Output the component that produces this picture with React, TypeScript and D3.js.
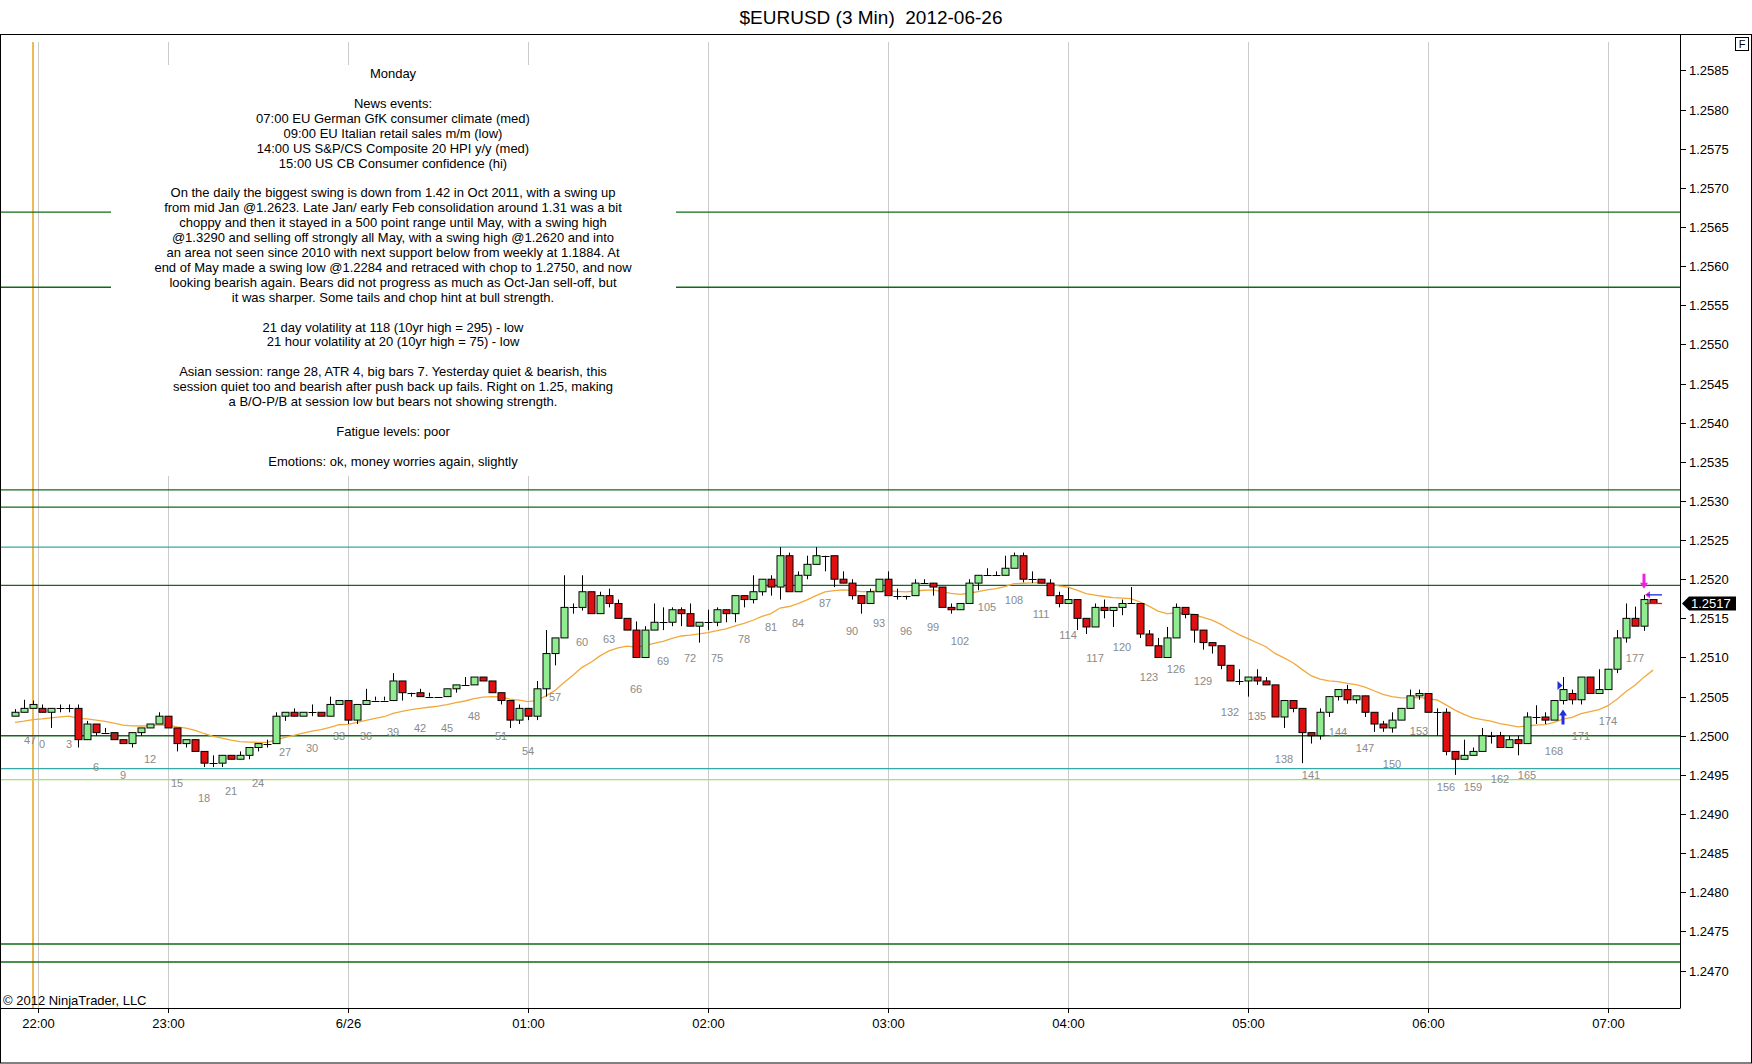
import React, { useEffect, useRef } from 'react'
import * as d3 from 'd3'

const WIDTH = 1752
const HEIGHT = 1064
const FONT = 'Liberation Sans, Arial, sans-serif'

const chartTitle = '$EURUSD (3 Min)  2012-06-26'
const copyright = '\u00A9 2012 NinjaTrader, LLC'

// bar index of the first visible bar (three bars of the prior session are shown)
const firstBar = -3

// OHLC of every 3 min bar, bar -3 .. 179
const opens = [
  1.25025, 1.2503, 1.25035, 1.25035, 1.2503, 1.25035, 1.25035, 1.25035, 1.24995, 1.25015,
  1.25004, 1.25004, 1.24995, 1.2499, 1.25004, 1.2501, 1.25015, 1.25025, 1.2501, 1.2499,
  1.24995, 1.2498, 1.24965, 1.24965, 1.24975, 1.2497, 1.24975, 1.24985, 1.2499, 1.2499,
  1.25025, 1.2503, 1.25025, 1.2503, 1.2503, 1.25025, 1.2504, 1.25045, 1.2502, 1.2504,
  1.25045, 1.25045, 1.25045, 1.2507, 1.25055, 1.25055, 1.2505, 1.2505, 1.2505, 1.2506,
  1.25065, 1.25065, 1.25075, 1.2507, 1.25055, 1.25045, 1.2502, 1.25035, 1.25025, 1.2506,
  1.25105, 1.25125, 1.25164, 1.25164, 1.25184, 1.25156, 1.25179, 1.25169, 1.2515, 1.25135,
  1.251, 1.25135, 1.25145, 1.25145, 1.25161, 1.25156, 1.2514, 1.25145, 1.25145, 1.25161,
  1.25156, 1.25179, 1.25174, 1.25184, 1.252, 1.2519, 1.2523, 1.25184, 1.25205, 1.25219,
  1.2523, 1.2523, 1.252, 1.25195, 1.25179, 1.25169, 1.25184, 1.252, 1.25179, 1.25179,
  1.25179, 1.25195, 1.25195, 1.2519, 1.25164, 1.25161, 1.25169, 1.25195, 1.25205, 1.25205,
  1.25205, 1.25214, 1.2523, 1.252, 1.252, 1.25195, 1.25179, 1.25169, 1.25174, 1.2515,
  1.25139, 1.25164, 1.2516, 1.25164, 1.25169, 1.25169, 1.2513, 1.25115, 1.251, 1.25125,
  1.25164, 1.25155, 1.25135, 1.25119, 1.25115, 1.2509, 1.2507, 1.2507, 1.25075, 1.2507,
  1.25065, 1.25024, 1.25045, 1.25035, 1.25004, 1.25, 1.2503, 1.2505, 1.25059, 1.25046,
  1.25051, 1.2503, 1.25015, 1.2501, 1.2502, 1.25035, 1.25051, 1.25054, 1.2503, 1.2503,
  1.2498, 1.2497, 1.24975, 1.2498, 1.25, 1.25, 1.24985, 1.24995, 1.2499, 1.25024,
  1.25024, 1.2502, 1.25045, 1.25054, 1.25046, 1.25075, 1.25054, 1.25059, 1.25085, 1.25125,
  1.2515, 1.2514, 1.25174,
]

const highs = [
  1.25034, 1.25046, 1.25045, 1.2504, 1.25035, 1.2504, 1.2504, 1.2504, 1.25019, 1.25015,
  1.2501, 1.25004, 1.24995, 1.25004, 1.2501, 1.25015, 1.2503, 1.25025, 1.2501, 1.24995,
  1.24995, 1.2498, 1.24975, 1.24975, 1.24975, 1.2498, 1.24985, 1.2499, 1.24995, 1.2503,
  1.2503, 1.25035, 1.2503, 1.2504, 1.2503, 1.2505, 1.25045, 1.25045, 1.2504, 1.2506,
  1.2505, 1.2505, 1.2508, 1.2507, 1.25055, 1.2506, 1.25055, 1.2505, 1.2506, 1.25065,
  1.25075, 1.25075, 1.25075, 1.2507, 1.25055, 1.25045, 1.2504, 1.25035, 1.2507, 1.25135,
  1.25125, 1.25205, 1.25169, 1.25205, 1.25184, 1.25184, 1.25188, 1.25174, 1.2515, 1.25146,
  1.2514, 1.25169, 1.25164, 1.25164, 1.25164, 1.25169, 1.25145, 1.25161, 1.25164, 1.25161,
  1.25179, 1.25179, 1.25205, 1.252, 1.25205, 1.25241, 1.25234, 1.2521, 1.2523, 1.25241,
  1.2523, 1.2523, 1.2521, 1.252, 1.25179, 1.25188, 1.252, 1.2521, 1.25188, 1.25179,
  1.252, 1.252, 1.25195, 1.2519, 1.25169, 1.25169, 1.252, 1.25205, 1.25214, 1.2521,
  1.2523, 1.25234, 1.25234, 1.2521, 1.252, 1.252, 1.25184, 1.25189, 1.25174, 1.2515,
  1.25169, 1.25174, 1.25164, 1.25174, 1.2519, 1.25169, 1.25135, 1.25125, 1.25139, 1.25169,
  1.25164, 1.25155, 1.25135, 1.25119, 1.25115, 1.2509, 1.25085, 1.25075, 1.25085, 1.25075,
  1.25065, 1.25045, 1.25045, 1.25035, 1.25004, 1.25035, 1.2505, 1.25059, 1.25065, 1.25051,
  1.25051, 1.2503, 1.25019, 1.2503, 1.25035, 1.25059, 1.25059, 1.25054, 1.25035, 1.25035,
  1.2498, 1.24995, 1.24985, 1.2501, 1.25005, 1.25005, 1.25, 1.25, 1.2503, 1.25039,
  1.2503, 1.25045, 1.25075, 1.25059, 1.25075, 1.25075, 1.25085, 1.25085, 1.25135, 1.25169,
  1.25165, 1.2518, 1.25174,
]

const lows = [
  1.25025, 1.2503, 1.25035, 1.2503, 1.2501, 1.2503, 1.2503, 1.24985, 1.24995, 1.25,
  1.25004, 1.24995, 1.2499, 1.24985, 1.25, 1.2501, 1.25015, 1.2501, 1.2498, 1.24985,
  1.2498, 1.2496, 1.2496, 1.2496, 1.2497, 1.2497, 1.2497, 1.2498, 1.24985, 1.2499,
  1.25019, 1.25025, 1.25025, 1.25025, 1.25025, 1.25025, 1.2504, 1.25015, 1.25015, 1.2504,
  1.25045, 1.25045, 1.25045, 1.25045, 1.2505, 1.2505, 1.2505, 1.2505, 1.2505, 1.25055,
  1.25065, 1.25065, 1.2507, 1.25055, 1.2504, 1.2501, 1.25015, 1.2502, 1.2502, 1.2505,
  1.2509, 1.25125, 1.25156, 1.2516, 1.25156, 1.25156, 1.25164, 1.2515, 1.25135, 1.251,
  1.251, 1.25135, 1.25135, 1.2514, 1.2514, 1.2514, 1.25119, 1.25135, 1.2514, 1.25145,
  1.25145, 1.25164, 1.25169, 1.25179, 1.25179, 1.25174, 1.25184, 1.25184, 1.252, 1.25219,
  1.2521, 1.2519, 1.25195, 1.25174, 1.25156, 1.25169, 1.25184, 1.25179, 1.25174, 1.25174,
  1.25179, 1.25195, 1.25179, 1.25164, 1.25156, 1.25161, 1.25169, 1.25186, 1.25205, 1.25205,
  1.25205, 1.25214, 1.25196, 1.25195, 1.25195, 1.25179, 1.25164, 1.25169, 1.25135, 1.2513,
  1.25139, 1.2515, 1.25139, 1.25154, 1.25169, 1.25125, 1.25115, 1.251, 1.251, 1.25125,
  1.2515, 1.25119, 1.2511, 1.25105, 1.25085, 1.2507, 1.25065, 1.2505, 1.25065, 1.25065,
  1.25024, 1.2501, 1.2503, 1.24965, 1.2499, 1.24995, 1.25024, 1.25045, 1.25041, 1.25041,
  1.25024, 1.25005, 1.25005, 1.25004, 1.2502, 1.25035, 1.25046, 1.2503, 1.25, 1.24975,
  1.2495, 1.2497, 1.24975, 1.2498, 1.2499, 1.24985, 1.24985, 1.24975, 1.2499, 1.25015,
  1.25015, 1.2502, 1.2504, 1.2504, 1.2504, 1.25054, 1.25054, 1.25059, 1.2508, 1.25119,
  1.2514, 1.25134, 1.25169,
]

const closes = [
  1.2503, 1.25035, 1.2504, 1.2503, 1.25035, 1.25035, 1.25035, 1.24995, 1.25015, 1.25004,
  1.25004, 1.24995, 1.2499, 1.25004, 1.2501, 1.25015, 1.25025, 1.2501, 1.2499, 1.24995,
  1.2498, 1.24965, 1.24965, 1.24975, 1.2497, 1.24975, 1.24985, 1.2499, 1.2499, 1.25025,
  1.2503, 1.25025, 1.2503, 1.2503, 1.25025, 1.2504, 1.25045, 1.2502, 1.2504, 1.25045,
  1.25045, 1.25045, 1.2507, 1.25055, 1.25055, 1.2505, 1.2505, 1.2505, 1.2506, 1.25065,
  1.25065, 1.25075, 1.2507, 1.25055, 1.25045, 1.2502, 1.25035, 1.25025, 1.2506, 1.25105,
  1.25125, 1.25164, 1.25164, 1.25184, 1.25156, 1.25179, 1.25169, 1.2515, 1.25135, 1.251,
  1.25135, 1.25145, 1.25145, 1.25161, 1.25156, 1.2514, 1.25145, 1.25145, 1.25161, 1.25156,
  1.25179, 1.25174, 1.25184, 1.252, 1.2519, 1.2523, 1.25184, 1.25205, 1.25219, 1.2523,
  1.2523, 1.252, 1.25195, 1.25179, 1.25169, 1.25184, 1.252, 1.25179, 1.25179, 1.25179,
  1.25195, 1.25195, 1.2519, 1.25164, 1.25161, 1.25169, 1.25195, 1.25205, 1.25205, 1.25205,
  1.25214, 1.2523, 1.252, 1.252, 1.25195, 1.25179, 1.25169, 1.25174, 1.2515, 1.25139,
  1.25164, 1.2516, 1.25164, 1.25169, 1.25169, 1.2513, 1.25115, 1.251, 1.25125, 1.25164,
  1.25155, 1.25135, 1.25119, 1.25115, 1.2509, 1.2507, 1.2507, 1.25075, 1.2507, 1.25065,
  1.25024, 1.25045, 1.25035, 1.25004, 1.25, 1.2503, 1.2505, 1.25059, 1.25046, 1.25051,
  1.2503, 1.25015, 1.2501, 1.2502, 1.25035, 1.25051, 1.25054, 1.2503, 1.2503, 1.2498,
  1.2497, 1.24975, 1.2498, 1.25, 1.25, 1.24985, 1.24995, 1.2499, 1.25024, 1.25024,
  1.2502, 1.25045, 1.25059, 1.25046, 1.25075, 1.25054, 1.25059, 1.25085, 1.25125, 1.2515,
  1.2514, 1.25174, 1.25169,
]

// bars painted in the darker red
const darkBars = [8, 141]

// 20 period EMA, seeded with the value read at the first visible bar
const emaPeriod = 20
const emaSeed = 1.25017

// time axis
const timeTickBars = [-0.5, 14, 34, 54, 74, 94, 114, 134, 154, 174]
const timeTickLabels = ['22:00', '23:00', '6/26', '01:00', '02:00', '03:00', '04:00', '05:00', '06:00', '07:00']
const sessionBreakBar = -1

// price axis
const priceMin = 1.247
const priceMax = 1.2585
const priceTicks = d3.range(0, 24).map(i => +(priceMin + i * 0.0005).toFixed(4))

// horizontal drawn lines
const levelPrices = [1.25669, 1.25573, 1.25314, 1.25292, 1.25241, 1.25192, 1.25, 1.24958, 1.24944, 1.24734, 1.24711]
const levelKinds = ['dark', 'dark', 'dark', 'dark', 'teal', 'dark', 'dark', 'teal', 'light', 'dark', 'dark']

// bar counter: previous session's last bar, then every third bar
const prevSessionBar = -1
const prevSessionLabel = '47'
const counterBars = d3.range(0, 178, 3)

// execution / signal markers
const buyMarkerBar = 169
const sellMarkerBar = 178
const askPrice = 1.2518

const notes = [
  'Monday',
  '',
  'News events:',
  '07:00 EU German GfK consumer climate (med)',
  '09:00 EU Italian retail sales m/m (low)',
  '14:00 US S&P/CS Composite 20 HPI y/y (med)',
  '15:00 US CB Consumer confidence (hi)',
  '',
  'On the daily the biggest swing is down from 1.42 in Oct 2011, with a swing up',
  'from mid Jan @1.2623. Late Jan/ early Feb consolidation around 1.31 was a bit',
  'choppy and then it stayed in a 500 point range until May, with a swing high',
  '@1.3290 and selling off strongly all May, with a swing high @1.2620 and into',
  'an area not seen since 2010 with next support below from weekly at 1.1884. At',
  'end of May made a swing low @1.2284 and retraced with chop to 1.2750, and now',
  'looking bearish again. Bears did not progress as much as Oct-Jan sell-off, but',
  'it was sharper. Some tails and chop hint at bull strength.',
  '',
  '21 day volatility at 118 (10yr high = 295) - low',
  '21 hour volatility at 20 (10yr high = 75) - low',
  '',
  'Asian session: range 28, ATR 4, big bars 7. Yesterday quiet & bearish, this',
  'session quiet too and bearish after push back up fails. Right on 1.25, making',
  'a B/O-P/B at session low but bears not showing strength.',
  '',
  'Fatigue levels: poor',
  '',
  'Emotions: ok, money worries again, slightly',
]

const levelColor: Record<string, string> = { dark: '#106b16', teal: '#35a9a6', light: '#a8e35a' }

const App: React.FC = () => {
  const svgRef = useRef<SVGSVGElement>(null)

  useEffect(() => {
    const svg = d3.select(svgRef.current)
    svg.selectAll('*').remove()

    const plot = { left: 0, right: 1680, top: 34, bottom: 1008 }
    const lastBar = firstBar + closes.length - 1

    const x = d3.scaleLinear().domain([firstBar, lastBar]).range([15, 15 + 9 * (lastBar - firstBar)])
    const y = d3.scaleLinear().domain([priceMin, priceMax]).range([970.6, 70.4])
    const px = (b: number) => Math.round(x(b)) + 0.5

    svg.append('rect').attr('width', WIDTH).attr('height', HEIGHT).attr('fill', '#fff')

    // vertical hour grid
    svg.append('g')
      .selectAll('line')
      .data(timeTickBars)
      .enter()
      .append('line')
      .attr('x1', d => px(d))
      .attr('x2', d => px(d))
      .attr('y1', 42)
      .attr('y2', plot.bottom)
      .attr('stroke', '#cbcbcb')
      .attr('stroke-width', 1)

    // session break
    svg.append('line')
      .attr('x1', x(sessionBreakBar))
      .attr('x2', x(sessionBreakBar))
      .attr('y1', 42)
      .attr('y2', plot.bottom)
      .attr('stroke', '#e8a92e')
      .attr('stroke-width', 1.6)

    // drawn price levels
    svg.append('g')
      .selectAll('line')
      .data(levelPrices)
      .enter()
      .append('line')
      .attr('x1', plot.left)
      .attr('x2', plot.right)
      .attr('y1', d => y(d))
      .attr('y2', d => y(d))
      .attr('stroke', (d, i) => levelColor[levelKinds[i]])
      .attr('stroke-width', 1.3)

    // text note (opaque box)
    const notesG = svg.append('g')
    notesG.append('rect')
      .attr('x', 111)
      .attr('y', 65)
      .attr('width', 565)
      .attr('height', 411)
      .attr('fill', '#fff')
    notesG.selectAll('text')
      .data(notes)
      .enter()
      .append('text')
      .attr('x', 393)
      .attr('y', (d, i) => 73.7 + i * 14.9)
      .attr('dy', '0.35em')
      .attr('text-anchor', 'middle')
      .attr('font-family', FONT)
      .attr('font-size', '13px')
      .attr('fill', '#000')
      .text(d => d)

    // EMA
    const ema: number[] = []
    closes.forEach((c, i) => {
      ema.push(i === 0 ? emaSeed : ema[i - 1] + (c - ema[i - 1]) * 2 / (emaPeriod + 1))
    })
    const emaLine = d3.line<number>()
      .x((d, i) => x(firstBar + i))
      .y(d => y(d))
    svg.append('path')
      .datum(ema)
      .attr('fill', 'none')
      .attr('stroke', '#f2a93b')
      .attr('stroke-width', 1.3)
      .attr('d', emaLine)

    // candles
    const bars = closes.map((c, i) => ({
      bar: firstBar + i, o: opens[i], h: highs[i], l: lows[i], c,
    }))
    const candles = svg.append('g')
    candles.selectAll('.wick')
      .data(bars)
      .enter()
      .append('line')
      .attr('class', 'wick')
      .attr('x1', d => px(d.bar))
      .attr('x2', d => px(d.bar))
      .attr('y1', d => y(d.h))
      .attr('y2', d => y(d.l))
      .attr('stroke', '#000')
      .attr('stroke-width', 1)
    candles.selectAll('.body')
      .data(bars.filter(d => d.o !== d.c))
      .enter()
      .append('rect')
      .attr('class', 'body')
      .attr('x', d => px(d.bar) - 3.5)
      .attr('y', d => y(Math.max(d.o, d.c)))
      .attr('width', 7)
      .attr('height', d => Math.abs(y(d.o) - y(d.c)))
      .attr('fill', d => d.c > d.o ? '#90ec90' : (darkBars.includes(d.bar) ? '#a3261c' : '#e01010'))
      .attr('stroke', '#000')
      .attr('stroke-width', 1)
    candles.selectAll('.doji')
      .data(bars.filter(d => d.o === d.c))
      .enter()
      .append('line')
      .attr('class', 'doji')
      .attr('x1', d => px(d.bar) - 4)
      .attr('x2', d => px(d.bar) + 4)
      .attr('y1', d => Math.round(y(d.o)) + 0.5)
      .attr('y2', d => Math.round(y(d.o)) + 0.5)
      .attr('stroke', '#000')
      .attr('stroke-width', 1)

    // bar counter
    const counters = [{ bar: prevSessionBar, text: prevSessionLabel }]
      .concat(counterBars.map(b => ({ bar: b, text: String(b) })))
    svg.append('g')
      .selectAll('text')
      .data(counters)
      .enter()
      .append('text')
      .attr('x', d => x(d.bar) + (d.bar === prevSessionBar ? -3 : 0))
      .attr('y', d => y(lows[d.bar - firstBar]) + 31.5)
      .attr('dy', '0.35em')
      .attr('text-anchor', 'middle')
      .attr('font-family', FONT)
      .attr('font-size', '11px')
      .attr('fill', '#8a8a8a')
      .text(d => d.text)

    // markers
    const bx = x(buyMarkerBar)
    const bh = y(highs[buyMarkerBar - firstBar])
    const bl = y(lows[buyMarkerBar - firstBar])
    svg.append('path')
      .attr('d', `M${bx - 5.5},${bh + 4} L${bx - 0.5},${bh + 8.5} L${bx - 5.5},${bh + 13} Z`)
      .attr('fill', '#2030e0')
    svg.append('path')
      .attr('d', `M${bx},${bl + 5} L${bx + 4},${bl + 11} L${bx + 1.5},${bl + 11} L${bx + 1.5},${bl + 20} L${bx - 1.5},${bl + 20} L${bx - 1.5},${bl + 11} L${bx - 4},${bl + 11} Z`)
      .attr('fill', '#2030e0')

    const sx = x(sellMarkerBar)
    const sh = y(highs[sellMarkerBar - firstBar])
    svg.append('path')
      .attr('d', `M${sx},${sh - 6} L${sx + 4},${sh - 12} L${sx + 1.5},${sh - 12} L${sx + 1.5},${sh - 21} L${sx - 1.5},${sh - 21} L${sx - 1.5},${sh - 12} L${sx - 4},${sh - 12} Z`)
      .attr('fill', '#f020e0')
    svg.append('path')
      .attr('d', `M${sx + 1},${sh} L${sx + 6},${sh - 3.5} L${sx + 6},${sh + 3.5} Z`)
      .attr('fill', '#f020e0')

    const lx = x(lastBar)
    const lastClose = closes[closes.length - 1]
    svg.append('line')
      .attr('x1', lx - 6).attr('x2', lx + 9)
      .attr('y1', y(askPrice)).attr('y2', y(askPrice))
      .attr('stroke', '#1a2ad8').attr('stroke-width', 1.3)
    svg.append('line')
      .attr('x1', lx - 8).attr('x2', lx + 9)
      .attr('y1', y(lastClose)).attr('y2', y(lastClose))
      .attr('stroke', '#e01010').attr('stroke-width', 1.3)

    // frame
    svg.append('rect')
      .attr('x', 0.5).attr('y', plot.top + 0.5)
      .attr('width', WIDTH - 1).attr('height', HEIGHT - plot.top - 1.5)
      .attr('fill', 'none').attr('stroke', '#000')
    svg.append('line')
      .attr('x1', 0).attr('x2', plot.right + 0.5)
      .attr('y1', plot.bottom + 0.5).attr('y2', plot.bottom + 0.5)
      .attr('stroke', '#000')

    // price axis
    const yAxis = svg.append('g')
    yAxis.append('line')
      .attr('x1', plot.right + 0.5).attr('x2', plot.right + 0.5)
      .attr('y1', plot.top).attr('y2', plot.bottom)
      .attr('stroke', '#000')
    const yt = yAxis.selectAll('.tick')
      .data(priceTicks)
      .enter()
      .append('g')
      .attr('transform', d => `translate(0,${Math.round(y(d)) + 0.5})`)
    yt.append('line')
      .attr('x1', plot.right).attr('x2', plot.right + 6)
      .attr('stroke', '#000')
    yt.append('text')
      .attr('x', plot.right + 9)
      .attr('dy', '0.35em')
      .attr('font-family', FONT)
      .attr('font-size', '13px')
      .attr('fill', '#000')
      .text(d => d.toFixed(4))

    // last price marker
    const ly = y(lastClose)
    yAxis.append('path')
      .attr('d', `M${plot.right + 2},${ly} L${plot.right + 9},${ly - 7} L${plot.right + 56},${ly - 7} L${plot.right + 56},${ly + 7} L${plot.right + 9},${ly + 7} Z`)
      .attr('fill', '#000')
    yAxis.append('text')
      .attr('x', plot.right + 11)
      .attr('y', ly)
      .attr('dy', '0.35em')
      .attr('font-family', FONT)
      .attr('font-size', '13px')
      .attr('fill', '#fff')
      .text(lastClose.toFixed(4))

    // time axis
    const xt = svg.append('g')
      .selectAll('g')
      .data(timeTickBars)
      .enter()
      .append('g')
      .attr('transform', d => `translate(${px(d)},0)`)
    xt.append('line')
      .attr('y1', plot.bottom).attr('y2', plot.bottom + 5)
      .attr('stroke', '#000')
    xt.append('text')
      .attr('y', 1023)
      .attr('dy', '0.35em')
      .attr('text-anchor', 'middle')
      .attr('font-family', FONT)
      .attr('font-size', '13px')
      .attr('fill', '#000')
      .text((d, i) => timeTickLabels[i])

    // "F" button
    svg.append('rect')
      .attr('x', 1735.5).attr('y', 37.5).attr('width', 13).attr('height', 13)
      .attr('fill', '#fff').attr('stroke', '#000')
    svg.append('text')
      .attr('x', 1742).attr('y', 44).attr('dy', '0.35em')
      .attr('text-anchor', 'middle')
      .attr('font-family', FONT).attr('font-size', '11px')
      .text('F')

    svg.append('text')
      .attr('x', 3).attr('y', 1000).attr('dy', '0.35em')
      .attr('font-family', FONT).attr('font-size', '13px')
      .attr('fill', '#000')
      .text(copyright)

    svg.append('text')
      .attr('x', 871).attr('y', 17).attr('dy', '0.35em')
      .attr('text-anchor', 'middle')
      .attr('font-family', FONT).attr('font-size', '19px')
      .attr('fill', '#000')
      .style('white-space', 'pre')
      .text(chartTitle)
  }, [])

  return (
    <svg
      ref={svgRef}
      width={WIDTH}
      height={HEIGHT}
      style={{ position: 'absolute', left: 0, top: 0, display: 'block' }}
    />
  )
}

export default App
